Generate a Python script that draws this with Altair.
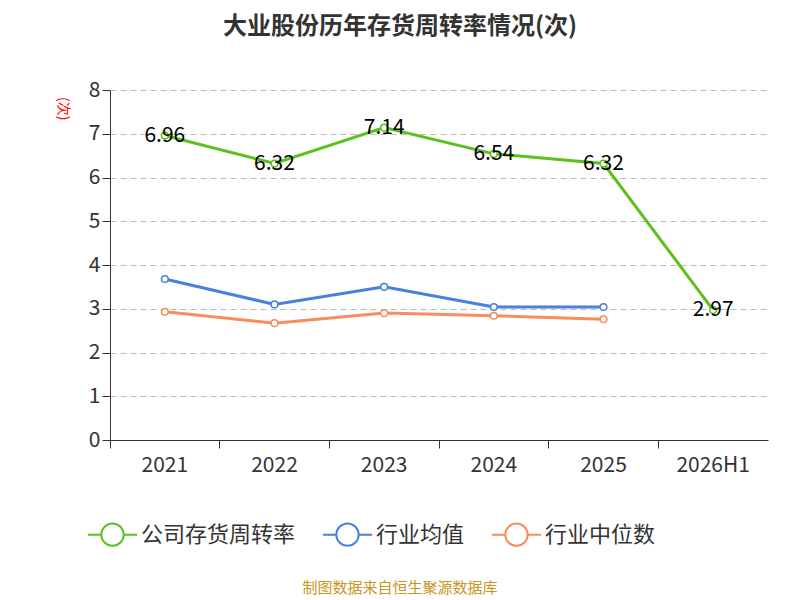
import altair as alt
import pandas as pd

years = ["2021", "2022", "2023", "2024", "2025", "2026H1"]
company = [6.96, 6.32, 7.14, 6.54, 6.32, 2.97]
ind_avg = [3.68, 3.10, 3.50, 3.04, 3.04]
ind_med = [2.93, 2.67, 2.90, 2.84, 2.76]
series = ["公司存货周转率", "行业均值", "行业中位数"]
colors = ["#5cc11f", "#4a7fe0", "#f98c5a"]

rows = []
for y, v in zip(years, company):
    rows.append({"year": y, "value": v, "series": series[0]})
for y, v in zip(years, ind_avg):
    rows.append({"year": y, "value": v, "series": series[1]})
for y, v in zip(years, ind_med):
    rows.append({"year": y, "value": v, "series": series[2]})
df = pd.DataFrame(rows)

F = "Noto Sans CJK SC"
x = alt.X("year:N", sort=years, scale=alt.Scale(type="band", paddingInner=0, paddingOuter=0),
          axis=alt.Axis(title=None, labelAngle=0, labelFontSize=21, labelColor="#333", labelFont=F,
                        bandPosition=0, tickSize=8, domainColor="#333", tickColor="#333", labelPadding=6))
y = alt.Y("value:Q", scale=alt.Scale(domain=[0, 8]),
          axis=alt.Axis(title="(次)", titleColor="red", titleFontSize=14, titleFont=F, titleFontWeight="normal",
                        titleAngle=90, titleAnchor="end", titleX=-55, titleY=30,
                        values=list(range(9)), labelFontSize=21, labelColor="#333", labelFont=F,
                        tickSize=8, domain=True, domainColor="#333", tickColor="#333",
                        grid=True, gridDash=[6, 4], gridColor="#bbb"))
sym = "M-2.2,0 L-1,0 M1,0 L2.2,0 M-1,0 A1,1 0 1 1 1,0 A1,1 0 1 1 -1,0"
color = alt.Color("series:N", scale=alt.Scale(domain=series, range=colors),
                  legend=alt.Legend(title=None, orient="none", legendX=-10, legendY=432,
                                    direction="horizontal", symbolType=sym, symbolSize=500,
                                    symbolFillColor="white", symbolStrokeWidth=2, labelFontSize=22,
                                    labelFont=F, labelColor="#333", columnPadding=22, symbolOffset=0,
                                    labelOffset=16))

base = alt.Chart(df).encode(x=x, y=y, color=color)
lines = base.mark_line(strokeWidth=3)
pts = base.mark_point(filled=False, fill="white", fillOpacity=1, size=45, strokeWidth=1.5, opacity=1)
labels = alt.Chart(df[df.series == series[0]]).mark_text(fontSize=21, font=F, color="black").encode(
    x=alt.X("year:N", sort=years), y="value:Q", text=alt.Text("value:Q", format=".2f"))
src = alt.Chart(pd.DataFrame({"t": ["制图数据来自恒生聚源数据库"]})).mark_text(
    fontSize=15, font=F, color="#c8961e").encode(x=alt.value(400 - 110), y=alt.value(498), text="t")

chart = alt.layer(lines, pts, labels, src).properties(
    width=658, height=350,
    title=alt.TitleParams("大业股份历年存货周转率情况(次)", fontSize=24, font=F, fontWeight="bold",
                          color="#333", anchor="middle", offset=40, dx=-39),
    padding={"left": 102, "top": 82, "right": 10, "bottom": 160},
    autosize=alt.AutoSizeParams(type="none"),
).configure_view(stroke=None)

chart.save("out.html", embed_options={"renderer": "svg", "actions": False})
